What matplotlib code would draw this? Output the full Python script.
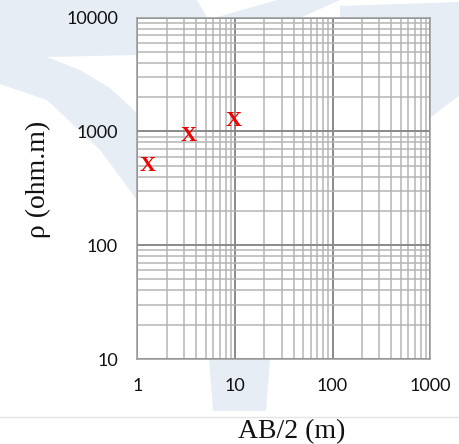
import matplotlib
matplotlib.use("Agg")
import matplotlib.pyplot as plt
from matplotlib.patches import Polygon
from matplotlib.lines import Line2D
from matplotlib.ticker import LogLocator, FixedLocator, FixedFormatter, NullFormatter

# Sounding readings: half electrode spacing AB/2 (m) vs apparent resistivity (ohm.m)
ab_half = [1.26, 3.32, 9.6]
rho = [524, 960, 1282]

x_ticks = [1, 10, 100, 1000]
x_tick_labels = ["1", "10", "100", "1000"]
y_ticks = [10, 100, 1000, 10000]
y_tick_labels = ["10", "100", "1000", "10000"]

W, H = 460, 444
fig = plt.figure(figsize=(W / 100, H / 100), dpi=100)
fig.patch.set_facecolor("white")


def px(points):
    """Convert pixel coords (origin top-left) to figure fractions."""
    return [(x / W, 1 - y / H) for x, y in points]


# faint background emblem
wm = "#e7edf5"
shapes = [
    [(0, 0), (197, 0), (214, 30), (137, 55), (47, 57), (80, 70), (110, 88),
     (137, 113), (137, 200), (100, 150), (47, 100), (0, 84)],
    [(277, 0), (340, 0), (300, 18), (214, 18)],
    [(340, 6), (400, 4), (460, 2), (460, 95), (430, 118), (400, 60), (340, 18)],
    [(209, 359), (270, 359), (266, 411), (213, 411)],
]
for s in shapes:
    fig.patches.append(Polygon(px(s), closed=True, transform=fig.transFigure,
                               facecolor=wm, edgecolor="none", zorder=-2))
fig.lines.append(Line2D([0, 1], [1 - 417 / H] * 2, transform=fig.transFigure,
                        color="#e4e4e4", lw=1.0, zorder=-2))

ax = fig.add_axes([137.5 / W, 1 - 359 / H, (430 - 137.5) / W, (359 - 17.5) / H])
ax.set_zorder(1)
ax.set_facecolor("white")
ax.set_xscale("log")
ax.set_yscale("log")
ax.set_xlim(1, 1000)
ax.set_ylim(10, 10000)

ax.xaxis.set_major_locator(FixedLocator(x_ticks))
ax.xaxis.set_major_formatter(FixedFormatter(x_tick_labels))
ax.yaxis.set_major_locator(FixedLocator(y_ticks))
ax.yaxis.set_major_formatter(FixedFormatter(y_tick_labels))
for a in (ax.xaxis, ax.yaxis):
    a.set_minor_locator(LogLocator(base=10, subs=range(2, 10), numticks=20))
    a.set_minor_formatter(NullFormatter())

ax.grid(True, which="minor", color="#b5b5b5", lw=1.1)
ax.grid(True, which="major", color="#8a8a8a", lw=1.4)
ax.set_axisbelow(True)
ax.tick_params(which="both", length=0)
ax.tick_params(axis="y", pad=14)
ax.tick_params(axis="x", pad=14)
for lab in ax.get_xticklabels() + ax.get_yticklabels():
    lab.set_fontfamily("Lato")
    lab.set_fontsize(13)
    lab.set_color("#111111")
for sp in ax.spines.values():
    sp.set_color("#9a9a9a")
    sp.set_linewidth(1.1)

# readings drawn as bold red "X" glyphs
for xv, yv in zip(ab_half, rho):
    ax.annotate("X", (xv, yv), xytext=(0, -5.2), textcoords="offset points",
                ha="center", va="baseline", color="#ee0000", fontsize=16,
                fontweight="bold", family="Liberation Serif")

fig.text(292 / W, 1 - 438 / H, "AB/2 (m)", ha="center", va="baseline",
         family="Liberation Serif", fontsize=20, color="#111111")
fig.text(38 / W, 1 - 179 / H, "ρ (ohm.m)", ha="center", va="center",
         rotation=90, family="Liberation Serif", fontsize=20, color="#111111")

fig.savefig("out.png", dpi=100, facecolor="white")
